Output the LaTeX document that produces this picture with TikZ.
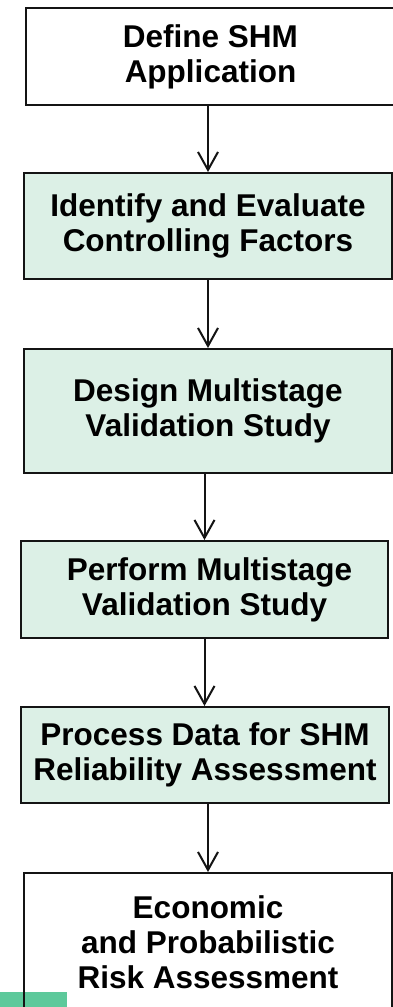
\documentclass[tikz,border=0pt]{standalone}
\usepackage{fontspec}
\setmainfont{Liberation Sans}
\usetikzlibrary{arrows.meta}
\definecolor{stepfill}{HTML}{DCF0E6}
\definecolor{patchgreen}{HTML}{5DC99B}
\definecolor{edge}{HTML}{141414}
\tikzset{
  box/.style={draw=edge, line width=2pt, rectangle, align=center, inner sep=0pt,
    font=\fontsize{31.5}{35}\selectfont\bfseries, text=black},
  greenbox/.style={box, fill=stepfill},
  flow/.style={draw=edge, line width=2pt,
    -{Straight Barb[length=18pt, width=20pt, line width=2pt]}}
}
\begin{document}
\begin{tikzpicture}[x=1pt, y=-1pt]
  \useasboundingbox (0,0) rectangle (393,1007);
  \fill[white] (0,0) rectangle (393,1007);
  % small accent block at the lower left corner
  \fill[patchgreen] (0,992) rectangle (67,1007);

  % process steps, top to bottom
  \node[box, minimum width=369pt, minimum height=97pt] (b1) at (210.5,56.5)
    {Define SHM\\Application};
  \node[greenbox, minimum width=368pt, minimum height=106pt] (b2) at (208,226)
    {Identify and Evaluate\\Controlling Factors};
  \node[greenbox, minimum width=368pt, minimum height=124pt] (b3) at (208,411)
    {Design Multistage\\Validation Study};
  \node[greenbox, minimum width=367pt, minimum height=97pt] (b4) at (204.5,589.5)
    {\hspace{10pt}Perform Multistage\\Validation Study};
  \node[greenbox, minimum width=368pt, minimum height=96pt] (b5) at (205,755)
    {Process Data for SHM\\Reliability Assessment};
  \node[box, minimum width=368pt, minimum height=139pt] (b6) at (208,942.5)
    {\raisebox{4pt}{\parbox{360pt}{\centering Economic\\and Probabilistic\\Risk Assessment}}};

  % connectors
  \draw[flow] (b1.south -| b2.north) -- (b2.north);
  \draw[flow] (b2.south) -- (b3.north);
  \draw[flow] (b3.south -| b4.north) -- (b4.north);
  \draw[flow] (b4.south) -- (b5.north -| b4.south);
  \draw[flow] (b5.south -| b6.north) -- (b6.north);
\end{tikzpicture}
\end{document}
